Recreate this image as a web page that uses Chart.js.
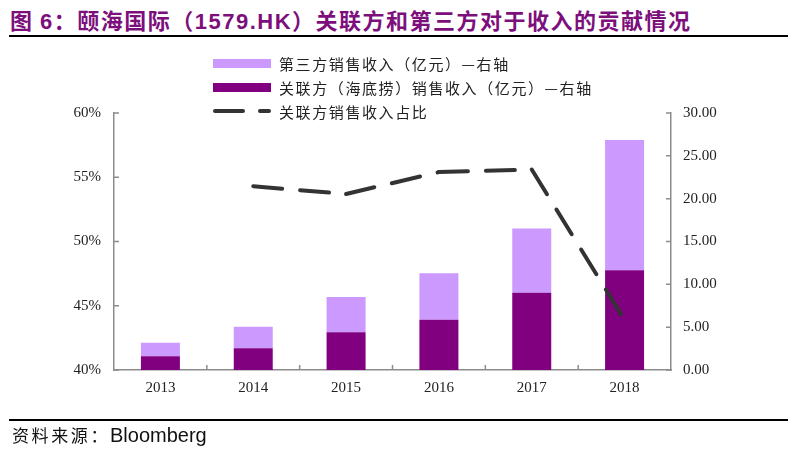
<!DOCTYPE html>
<html>
<head>
<meta charset="utf-8">
<script src="https://cdn.jsdelivr.net/npm/chart.js@4.4.1/dist/chart.umd.min.js"></script>
<style>
body { margin: 0; background: #fff; width: 796px; height: 451px; overflow: hidden; position: relative; font-family: "Noto Sans CJK SC", sans-serif; }
#title { position: absolute; left: 10px; top: 3px; font-size: 22px; font-weight: bold; color: #7d0f7d; letter-spacing: 1.5px; white-space: nowrap; }
.lat { font-family: "Liberation Sans", Arial, sans-serif; }
.rule { position: absolute; left: 9px; width: 779px; height: 2px; background: #000; }
#legend { position: absolute; left: 213px; top: 51px; }
.item { display: flex; align-items: center; height: 24px; font-size: 15px; letter-spacing: 1.6px; color: #222; white-space: nowrap; }
.sw { width: 58px; height: 9px; margin-right: 8px; flex: none; position: relative; }
.dash { position: absolute; top: 2px; height: 4px; border-radius: 2px; background: #333; }
#source { position: absolute; left: 12px; top: 422px; font-size: 17px; letter-spacing: 2.6px; color: #111; white-space: nowrap; }
#source .lat { font-size: 20px; letter-spacing: 0; }
canvas { position: absolute; left: 0; top: 0; }
</style>
</head>
<body>
<div id="title">图 <span class="lat">6</span>：颐海国际（<span class="lat">1579.HK</span>）关联方和第三方对于收入的贡献情况</div>
<div class="rule" style="top:35px"></div>
<canvas id="chart" width="796" height="451"></canvas>
<div id="legend"></div>
<div class="rule" style="top:419px"></div>
<div id="source">资料来源：<span class="lat">Bloomberg</span></div>
<script>
// Data
const years = ['2013', '2014', '2015', '2016', '2017', '2018'];
const relatedRevenue = [1.6, 2.55, 4.42, 5.87, 9.03, 11.64];     // 亿元, right axis
const thirdPartyRevenue = [1.58, 2.5, 4.09, 5.42, 7.48, 15.2];   // 亿元, right axis
const relatedShare = [null, 54.3, 53.7, 55.4, 55.6, 43.9];       // %, left axis
const shareTicks = [40, 45, 50, 55, 60];
const revenueTicks = [0, 5, 10, 15, 20, 25, 30];
const seriesNames = ['第三方销售收入（亿元）—右轴', '关联方（海底捞）销售收入（亿元）—右轴', '关联方销售收入占比'];

const lightPurple = '#CC99FF';
const darkPurple = '#800080';
const lineColor = '#333333';
const axisColor = '#8c8c8c';
const tickFont = { family: '"Liberation Serif", "Times New Roman", serif', size: 15 };

// Legend (stacked vertically like the source)
const legend = document.getElementById('legend');
seriesNames.forEach((name, i) => {
    const row = document.createElement('div');
    row.className = 'item';
    let sw;
    if (i < 2) {
        sw = `<div class="sw" style="background:${i === 0 ? lightPurple : darkPurple}"></div>`;
    } else {
        sw = `<div class="sw"><div class="dash" style="left:0;width:32px"></div><div class="dash" style="left:45px;width:13px"></div></div>`;
    }
    row.innerHTML = sw + `<span>${name}</span>`;
    legend.appendChild(row);
});

// Small tick marks pointing into the plot area
const innerTicks = {
    id: 'innerTicks',
    afterDraw(chart) {
        const { ctx, scales: { x, y, y1 } } = chart;
        ctx.save();
        ctx.strokeStyle = axisColor;
        ctx.lineWidth = 1.5;
        ctx.beginPath();
        y.ticks.forEach((t, i) => {
            const py = y.getPixelForTick(i);
            ctx.moveTo(y.right, py);
            ctx.lineTo(y.right + 5, py);
        });
        y1.ticks.forEach((t, i) => {
            const py = y1.getPixelForTick(i);
            ctx.moveTo(y1.left, py);
            ctx.lineTo(y1.left - 5, py);
        });
        for (let i = 1; i < years.length; i++) {
            const px = (x.getPixelForValue(i - 1) + x.getPixelForValue(i)) / 2;
            ctx.moveTo(px, x.top);
            ctx.lineTo(px, x.top - 5);
        }
        ctx.stroke();
        ctx.restore();
    }
};

new Chart(document.getElementById('chart'), {
    type: 'bar',
    data: {
        labels: years,
        datasets: [
            {
                type: 'line',
                label: seriesNames[2],
                data: relatedShare,
                yAxisID: 'y',
                borderColor: lineColor,
                borderWidth: 4,
                borderDash: [29, 18],
                borderCapStyle: 'round',
                pointRadius: 0,
                tension: 0,
                fill: false,
                order: 0,
                // dash pattern restarts at every point, like the source
                segment: { borderDashOffset: ctx => ctx.p0DataIndex * 0.001 }
            },
            {
                label: seriesNames[1],
                data: relatedRevenue,
                yAxisID: 'y1',
                backgroundColor: darkPurple,
                categoryPercentage: 1,
                barPercentage: 0.42,
                order: 1
            },
            {
                label: seriesNames[0],
                data: thirdPartyRevenue,
                yAxisID: 'y1',
                backgroundColor: lightPurple,
                categoryPercentage: 1,
                barPercentage: 0.42,
                order: 2
            }
        ]
    },
    options: {
        responsive: false,
        animation: false,
        layout: { padding: { top: 113, left: 0, right: 0, bottom: 0 } },
        plugins: {
            legend: { display: false },
            tooltip: { enabled: false }
        },
        scales: {
            x: {
                stacked: true,
                grid: { display: false, drawTicks: false },
                border: { display: true, color: axisColor, width: 1.5 },
                ticks: { font: tickFont, color: '#222', padding: 9 },
                afterFit: s => { s.height = 81; }
            },
            y: {
                position: 'left',
                min: shareTicks[0],
                max: shareTicks[shareTicks.length - 1],
                afterBuildTicks: s => { s.ticks = shareTicks.map(v => ({ value: v })); },
                grid: { display: false, drawTicks: false },
                border: { display: true, color: axisColor, width: 1.5 },
                ticks: { font: tickFont, color: '#222', padding: 13, callback: v => v + '%' },
                afterFit: s => { s.width = 114; }
            },
            y1: {
                position: 'right',
                stacked: true,
                min: revenueTicks[0],
                max: revenueTicks[revenueTicks.length - 1],
                afterBuildTicks: s => { s.ticks = revenueTicks.map(v => ({ value: v })); },
                grid: { display: false, drawTicks: false },
                border: { display: true, color: axisColor, width: 1.5 },
                ticks: { font: tickFont, color: '#222', padding: 12, callback: v => v.toFixed(2) },
                afterFit: s => { s.width = 125; }
            }
        }
    },
    plugins: [innerTicks]
});
</script>
</body>
</html>
